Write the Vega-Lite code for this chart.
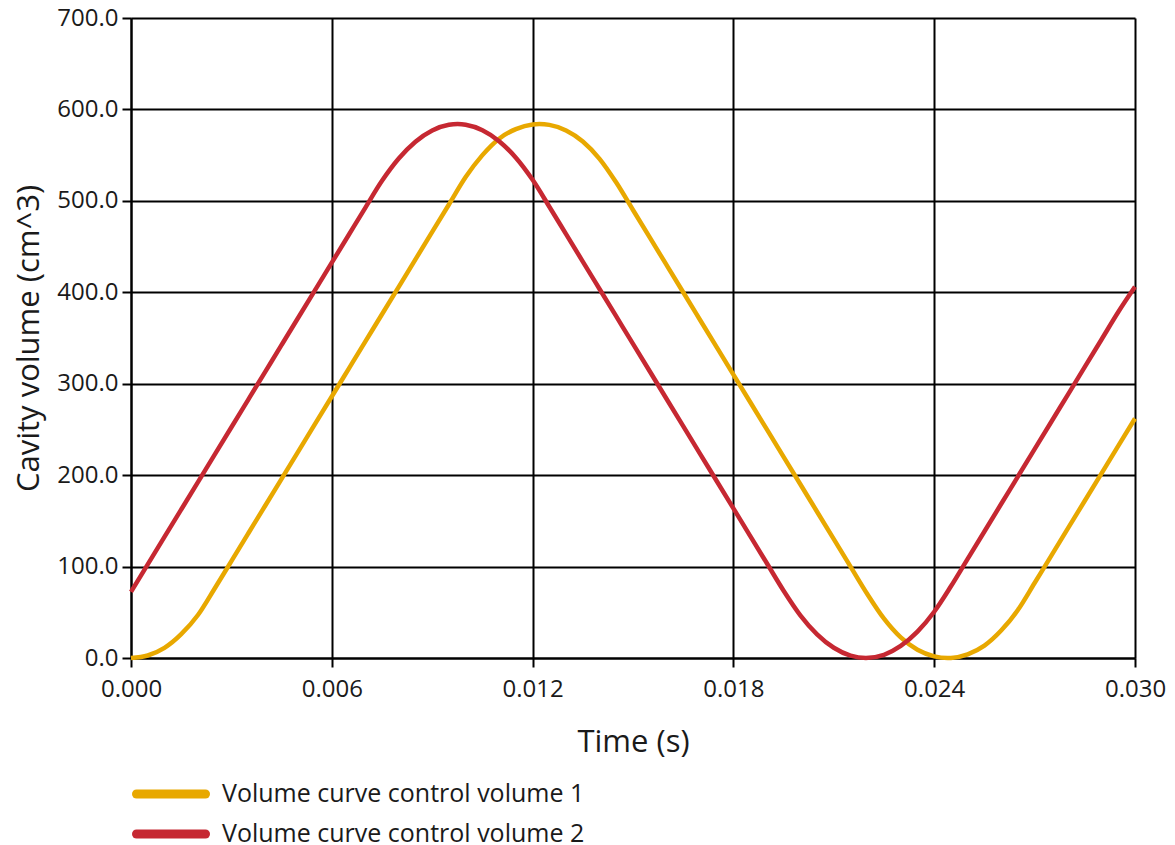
{
  "$schema": "https://vega.github.io/schema/vega-lite/v6.json",
  "width": 1004,
  "height": 640,
  "autosize": {"type": "none"},
  "padding": {"left": 131, "top": 18, "right": 40, "bottom": 187},
  "background": "white",
  "config": {"view": {"stroke": null}, "font": "Open Sans"},
  "data": {"values": [
    {"t": 0.0000, "v": 0, "s": "Volume curve control volume 1"},
    {"t": 0.0005, "v": 2.7, "s": "Volume curve control volume 1"},
    {"t": 0.0010, "v": 11, "s": "Volume curve control volume 1"},
    {"t": 0.0015, "v": 26, "s": "Volume curve control volume 1"},
    {"t": 0.0020, "v": 47, "s": "Volume curve control volume 1"},
    {"t": 0.0025, "v": 76, "s": "Volume curve control volume 1"},
    {"t": 0.0030, "v": 106, "s": "Volume curve control volume 1"},
    {"t": 0.0035, "v": 136, "s": "Volume curve control volume 1"},
    {"t": 0.0040, "v": 166, "s": "Volume curve control volume 1"},
    {"t": 0.0045, "v": 196, "s": "Volume curve control volume 1"},
    {"t": 0.0050, "v": 226, "s": "Volume curve control volume 1"},
    {"t": 0.0055, "v": 256, "s": "Volume curve control volume 1"},
    {"t": 0.0060, "v": 286, "s": "Volume curve control volume 1"},
    {"t": 0.0065, "v": 316, "s": "Volume curve control volume 1"},
    {"t": 0.0070, "v": 346, "s": "Volume curve control volume 1"},
    {"t": 0.0075, "v": 376, "s": "Volume curve control volume 1"},
    {"t": 0.0080, "v": 406, "s": "Volume curve control volume 1"},
    {"t": 0.0085, "v": 436, "s": "Volume curve control volume 1"},
    {"t": 0.0090, "v": 466, "s": "Volume curve control volume 1"},
    {"t": 0.0095, "v": 496, "s": "Volume curve control volume 1"},
    {"t": 0.0100, "v": 526, "s": "Volume curve control volume 1"},
    {"t": 0.0105, "v": 550, "s": "Volume curve control volume 1"},
    {"t": 0.0110, "v": 568, "s": "Volume curve control volume 1"},
    {"t": 0.0115, "v": 578.5, "s": "Volume curve control volume 1"},
    {"t": 0.0120, "v": 583.6, "s": "Volume curve control volume 1"},
    {"t": 0.0122, "v": 584, "s": "Volume curve control volume 1"},
    {"t": 0.0125, "v": 583.1, "s": "Volume curve control volume 1"},
    {"t": 0.0130, "v": 577, "s": "Volume curve control volume 1"},
    {"t": 0.0135, "v": 565, "s": "Volume curve control volume 1"},
    {"t": 0.0140, "v": 546, "s": "Volume curve control volume 1"},
    {"t": 0.0145, "v": 520, "s": "Volume curve control volume 1"},
    {"t": 0.0150, "v": 490, "s": "Volume curve control volume 1"},
    {"t": 0.0155, "v": 460, "s": "Volume curve control volume 1"},
    {"t": 0.0160, "v": 430, "s": "Volume curve control volume 1"},
    {"t": 0.0165, "v": 400, "s": "Volume curve control volume 1"},
    {"t": 0.0170, "v": 370, "s": "Volume curve control volume 1"},
    {"t": 0.0175, "v": 340, "s": "Volume curve control volume 1"},
    {"t": 0.0180, "v": 310, "s": "Volume curve control volume 1"},
    {"t": 0.0185, "v": 280, "s": "Volume curve control volume 1"},
    {"t": 0.0190, "v": 250, "s": "Volume curve control volume 1"},
    {"t": 0.0195, "v": 220, "s": "Volume curve control volume 1"},
    {"t": 0.0200, "v": 190, "s": "Volume curve control volume 1"},
    {"t": 0.0205, "v": 160, "s": "Volume curve control volume 1"},
    {"t": 0.0210, "v": 130, "s": "Volume curve control volume 1"},
    {"t": 0.0215, "v": 100, "s": "Volume curve control volume 1"},
    {"t": 0.0220, "v": 70, "s": "Volume curve control volume 1"},
    {"t": 0.0225, "v": 43, "s": "Volume curve control volume 1"},
    {"t": 0.0230, "v": 22.5, "s": "Volume curve control volume 1"},
    {"t": 0.0235, "v": 9, "s": "Volume curve control volume 1"},
    {"t": 0.0240, "v": 1.8, "s": "Volume curve control volume 1"},
    {"t": 0.0244, "v": 0, "s": "Volume curve control volume 1"},
    {"t": 0.0245, "v": 0.1, "s": "Volume curve control volume 1"},
    {"t": 0.0250, "v": 4, "s": "Volume curve control volume 1"},
    {"t": 0.0255, "v": 13.5, "s": "Volume curve control volume 1"},
    {"t": 0.0260, "v": 30, "s": "Volume curve control volume 1"},
    {"t": 0.0265, "v": 52.5, "s": "Volume curve control volume 1"},
    {"t": 0.0270, "v": 82, "s": "Volume curve control volume 1"},
    {"t": 0.0275, "v": 112, "s": "Volume curve control volume 1"},
    {"t": 0.0280, "v": 142, "s": "Volume curve control volume 1"},
    {"t": 0.0285, "v": 172, "s": "Volume curve control volume 1"},
    {"t": 0.0290, "v": 202, "s": "Volume curve control volume 1"},
    {"t": 0.0295, "v": 232, "s": "Volume curve control volume 1"},
    {"t": 0.0300, "v": 262, "s": "Volume curve control volume 1"},
    {"t": 0.0000, "v": 72.4, "s": "Volume curve control volume 2"},
    {"t": 0.0005, "v": 102.4, "s": "Volume curve control volume 2"},
    {"t": 0.0010, "v": 132.4, "s": "Volume curve control volume 2"},
    {"t": 0.0015, "v": 162.4, "s": "Volume curve control volume 2"},
    {"t": 0.0020, "v": 192.4, "s": "Volume curve control volume 2"},
    {"t": 0.0025, "v": 222.4, "s": "Volume curve control volume 2"},
    {"t": 0.0030, "v": 252.4, "s": "Volume curve control volume 2"},
    {"t": 0.0035, "v": 282.4, "s": "Volume curve control volume 2"},
    {"t": 0.0040, "v": 312.4, "s": "Volume curve control volume 2"},
    {"t": 0.0045, "v": 342.4, "s": "Volume curve control volume 2"},
    {"t": 0.0050, "v": 372.4, "s": "Volume curve control volume 2"},
    {"t": 0.0055, "v": 402.4, "s": "Volume curve control volume 2"},
    {"t": 0.0060, "v": 432.4, "s": "Volume curve control volume 2"},
    {"t": 0.0065, "v": 462.4, "s": "Volume curve control volume 2"},
    {"t": 0.0070, "v": 492.4, "s": "Volume curve control volume 2"},
    {"t": 0.0075, "v": 521.9, "s": "Volume curve control volume 2"},
    {"t": 0.0080, "v": 546.3, "s": "Volume curve control volume 2"},
    {"t": 0.0085, "v": 564.7, "s": "Volume curve control volume 2"},
    {"t": 0.0090, "v": 577, "s": "Volume curve control volume 2"},
    {"t": 0.0095, "v": 583.2, "s": "Volume curve control volume 2"},
    {"t": 0.00976, "v": 584, "s": "Volume curve control volume 2"},
    {"t": 0.0100, "v": 583.3, "s": "Volume curve control volume 2"},
    {"t": 0.0105, "v": 577.3, "s": "Volume curve control volume 2"},
    {"t": 0.0110, "v": 565.3, "s": "Volume curve control volume 2"},
    {"t": 0.0115, "v": 547.2, "s": "Volume curve control volume 2"},
    {"t": 0.0120, "v": 523, "s": "Volume curve control volume 2"},
    {"t": 0.0125, "v": 493.6, "s": "Volume curve control volume 2"},
    {"t": 0.0130, "v": 463.6, "s": "Volume curve control volume 2"},
    {"t": 0.0135, "v": 433.6, "s": "Volume curve control volume 2"},
    {"t": 0.0140, "v": 403.6, "s": "Volume curve control volume 2"},
    {"t": 0.0145, "v": 373.6, "s": "Volume curve control volume 2"},
    {"t": 0.0150, "v": 343.6, "s": "Volume curve control volume 2"},
    {"t": 0.0155, "v": 313.6, "s": "Volume curve control volume 2"},
    {"t": 0.0160, "v": 283.6, "s": "Volume curve control volume 2"},
    {"t": 0.0165, "v": 253.6, "s": "Volume curve control volume 2"},
    {"t": 0.0170, "v": 223.6, "s": "Volume curve control volume 2"},
    {"t": 0.0175, "v": 193.6, "s": "Volume curve control volume 2"},
    {"t": 0.0180, "v": 163.6, "s": "Volume curve control volume 2"},
    {"t": 0.0185, "v": 133.6, "s": "Volume curve control volume 2"},
    {"t": 0.0190, "v": 103.6, "s": "Volume curve control volume 2"},
    {"t": 0.0195, "v": 73.6, "s": "Volume curve control volume 2"},
    {"t": 0.0200, "v": 46.7, "s": "Volume curve control volume 2"},
    {"t": 0.0205, "v": 25.9, "s": "Volume curve control volume 2"},
    {"t": 0.0210, "v": 11.2, "s": "Volume curve control volume 2"},
    {"t": 0.0215, "v": 2.6, "s": "Volume curve control volume 2"},
    {"t": 0.02196, "v": 0, "s": "Volume curve control volume 2"},
    {"t": 0.0225, "v": 3.5, "s": "Volume curve control volume 2"},
    {"t": 0.0230, "v": 13.2, "s": "Volume curve control volume 2"},
    {"t": 0.0235, "v": 28.8, "s": "Volume curve control volume 2"},
    {"t": 0.0240, "v": 50.6, "s": "Volume curve control volume 2"},
    {"t": 0.0245, "v": 78.4, "s": "Volume curve control volume 2"},
    {"t": 0.0250, "v": 108.4, "s": "Volume curve control volume 2"},
    {"t": 0.0255, "v": 138.4, "s": "Volume curve control volume 2"},
    {"t": 0.0260, "v": 168.4, "s": "Volume curve control volume 2"},
    {"t": 0.0265, "v": 198.4, "s": "Volume curve control volume 2"},
    {"t": 0.0270, "v": 228.4, "s": "Volume curve control volume 2"},
    {"t": 0.0275, "v": 258.4, "s": "Volume curve control volume 2"},
    {"t": 0.0280, "v": 288.4, "s": "Volume curve control volume 2"},
    {"t": 0.0285, "v": 318.4, "s": "Volume curve control volume 2"},
    {"t": 0.0290, "v": 348.4, "s": "Volume curve control volume 2"},
    {"t": 0.0295, "v": 378.4, "s": "Volume curve control volume 2"},
    {"t": 0.0300, "v": 406, "s": "Volume curve control volume 2"}
  ]},
  "mark": {"type": "line", "strokeWidth": 4.5, "interpolate": "monotone"},
  "encoding": {
    "x": {
      "field": "t", "type": "quantitative",
      "scale": {"domain": [0, 0.03], "nice": false, "zero": false},
      "axis": {
        "values": [0, 0.006, 0.012, 0.018, 0.024, 0.03],
        "format": ".3f", "title": "Time (s)", "labelFlush": false,
        "grid": true, "gridColor": "black", "gridWidth": 2, "gridOpacity": 1,
        "domainColor": "black", "domainWidth": 2,
        "tickColor": "black", "tickWidth": 2, "tickSize": 9,
        "labelFontSize": 24, "labelColor": "#1a1a1a", "labelPadding": 10,
        "titleFontSize": 31, "titleFontWeight": "normal", "titleColor": "#1a1a1a", "titlePadding": 26
      }
    },
    "y": {
      "field": "v", "type": "quantitative",
      "scale": {"domain": [0, 700], "nice": false},
      "axis": {
        "values": [0, 100, 200, 300, 400, 500, 600, 700],
        "format": ".1f", "title": "Cavity volume (cm^3)",
        "grid": true, "gridColor": "black", "gridWidth": 2, "gridOpacity": 1,
        "domainColor": "black", "domainWidth": 2,
        "tickColor": "black", "tickWidth": 2, "tickSize": 9,
        "labelFontSize": 24, "labelColor": "#1a1a1a", "labelPadding": 4,
        "titleFontSize": 31, "titleFontWeight": "normal", "titleColor": "#1a1a1a", "titlePadding": 11
      }
    },
    "color": {
      "field": "s", "type": "nominal",
      "scale": {"domain": ["Volume curve control volume 1", "Volume curve control volume 2"], "range": ["#e8a800", "#c62832"]},
      "legend": {
        "title": null, "orient": "none", "legendX": 25.5, "legendY": 761.5, "direction": "vertical",
        "symbolType": "M-3.45,0L3.45,0", "symbolSize": 400, "symbolStrokeWidth": 9,
        "labelFontSize": 25, "labelColor": "#1a1a1a", "labelOffset": 36.5, "rowPadding": 3,
        "labelLimit": 600,
        "encode": {"symbols": {"update": {"strokeCap": {"value": "round"}}}}
      }
    }
  }
}
